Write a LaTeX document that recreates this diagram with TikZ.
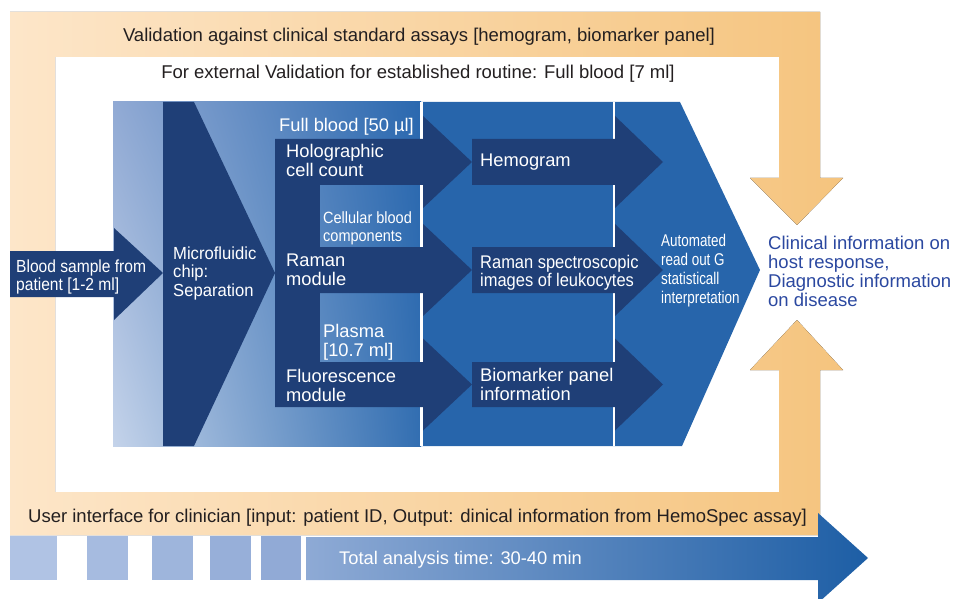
\documentclass[tikz,border=0pt]{standalone}
\usepackage{fontspec}
\usetikzlibrary{shadings}
\setmainfont{Liberation Sans}
\newfontfamily\condA[FakeStretch=0.90]{Liberation Sans}
\newfontfamily\condB[FakeStretch=0.95]{Liberation Sans}
\newfontfamily\condC[FakeStretch=0.89]{Liberation Sans}
\newfontfamily\condD[FakeStretch=0.79]{Liberation Sans}
\definecolor{navy}{HTML}{1F3F77}
\definecolor{midblue}{HTML}{2765AB}
\definecolor{orangeL}{HTML}{FDE6C9}
\definecolor{orangeR}{HTML}{F5C47E}
\definecolor{clinblue}{HTML}{2B48A0}
\definecolor{inkgray}{HTML}{231F20}
\definecolor{bgUL}{RGB}{145,170,212}
\definecolor{bgUR}{RGB}{42,104,175}
\definecolor{bgLL}{RGB}{196,211,234}
\definecolor{bgLR}{RGB}{50,110,177}
\definecolor{tb1}{RGB}{176,195,228}
\definecolor{tb2}{RGB}{166,187,224}
\definecolor{tb3}{RGB}{158,181,220}
\definecolor{tb4}{RGB}{151,175,217}
\definecolor{tb5}{RGB}{145,170,214}
\definecolor{tbL}{RGB}{142,170,213}
\definecolor{tbR}{RGB}{29,94,165}
\newcommand\mlines[1]{\vtop{\halign{##\hfil\cr#1\crcr}}}
\begin{document}
\begin{tikzpicture}[x=1pt,y=-1pt,
  wlbl/.style={anchor=base west, inner sep=0pt, text=white},
  glbl/.style={anchor=base, inner sep=0pt, text=inkgray, font=\fontsize{18.5}{19}\selectfont},
  std/.style={font=\fontsize{18.3}{19}\selectfont}]
\useasboundingbox (0,0) rectangle (954,599);
% orange frame with arrowheads
\fill[left color=orangeL, right color=orangeR]
  (10,12) -- (820,12) -- (820,178) -- (843,178) -- (797,225) -- (750,178) -- (779,178)
  -- (779,57) -- (55,57) -- (55,492) -- (779,492) -- (779,370) -- (750,370) -- (797,320)
  -- (843,370) -- (820,370) -- (820,535) -- (10,535) -- cycle;
% blue background
\shade[shading=bilinear interpolation, upper left=bgUL, upper right=bgUR, lower left=bgLL, lower right=bgLR]
  (113,102) rectangle (421,446);
\fill[midblue] (421,102) -- (680,102) -- (760,270) -- (682,446) -- (421,446) -- cycle;
\fill[white] (420,102) rectangle (422.5,446);
\fill[white] (612.5,102) rectangle (615,446);
% microfluidic chip chevron
\fill[navy] (163,102) -- (194,102) -- (275,273) -- (194,446) -- (163,446) -- cycle;
% blood sample arrow
\fill[navy] (10,251) -- (114,251) -- (114,228) -- (163,273) -- (114,320) -- (114,297) -- (10,297) -- cycle;
% module column and rows
\fill[navy] (275,139) rectangle (320,407);
\foreach \t/\b/\c in {139/185/162, 247/293/270, 362/407/384.5}{
  \fill[navy] (275,\t) -- (423,\t) -- (423,\c-46) -- (472,\c) -- (423,\c+46) -- (423,\b) -- (275,\b) -- cycle;
  \fill[navy] (472,\t) -- (615,\t) -- (615,\c-46) -- (663,\c) -- (615,\c+46) -- (615,\b) -- (472,\b) -- cycle;
}
% time arrow
\fill[tb1] (10,536) rectangle (57,580);
\fill[tb2] (87,536) rectangle (128,580);
\fill[tb3] (152,536) rectangle (193,580);
\fill[tb4] (210,536) rectangle (251,580);
\fill[tb5] (261,536) rectangle (301,580);
\shade[left color=tbL, right color=tbR]
  (306,537) -- (818,537) -- (818,513) -- (868,558) -- (818,603) -- (818,580) -- (306,580) -- cycle;
% texts
\node[glbl] (val) at (419,42) {Validation against clinical standard assays [hemogram, biomarker panel]};
\node[glbl] (ext) at (418,79) {For external Validation for established routine: Full blood [7 ml]};
\node[glbl, anchor=base west] (ui) at (28,522) {User interface for clinician [input: patient ID, Output: dinical information from HemoSpec assay]};
\node[wlbl, std] (time) at (339,564) {Total analysis time: 30-40 min};
\node[wlbl, font={\condC\fontsize{17.5}{18.5}\selectfont}] (blood) at (16,272) {\mlines{Blood sample from\cr patient [1-2 ml]}};
\node[wlbl, font={\condB\fontsize{17.5}{18.5}\selectfont}] (chip) at (173,259) {\mlines{Microfluidic\cr chip:\cr Separation}};
\node[wlbl, std] (full) at (279,132) {Full blood [50 µl]};
\node[wlbl, std] (holo) at (286,158) {\mlines{Holographic\cr cell count}};
\node[wlbl, font={\condC\fontsize{16.3}{18.5}\selectfont}] (cell) at (323,223) {\mlines{Cellular blood\cr components}};
\node[wlbl, std] (raman) at (286,266) {\mlines{Raman\cr module}};
\node[wlbl, std] (plasma) at (323,337) {\mlines{Plasma\cr [10.7 ml]}};
\node[wlbl, std] (fluo) at (286,382) {\mlines{Fluorescence\cr module}};
\node[wlbl, std] (hemo) at (480,167) {Hemogram};
\node[wlbl, font={\condA\fontsize{18.3}{19}\selectfont}] (rspec) at (480,268) {\mlines{Raman spectroscopic\cr images of leukocytes}};
\node[wlbl, std] (bio) at (480,381) {\mlines{Biomarker panel\cr information}};
\node[wlbl, font={\condD\fontsize{17}{18.7}\selectfont}] (auto) at (661,247) {\mlines{Automated\cr read out G\cr statisticall\cr interpretation}};
\node[anchor=base west, inner sep=0pt, text=clinblue, font=\fontsize{18.5}{18.7}\selectfont] (clin) at (768,250)
  {\mlines{Clinical information on\cr host response,\cr Diagnostic information\cr on disease}};
\end{tikzpicture}
\end{document}
